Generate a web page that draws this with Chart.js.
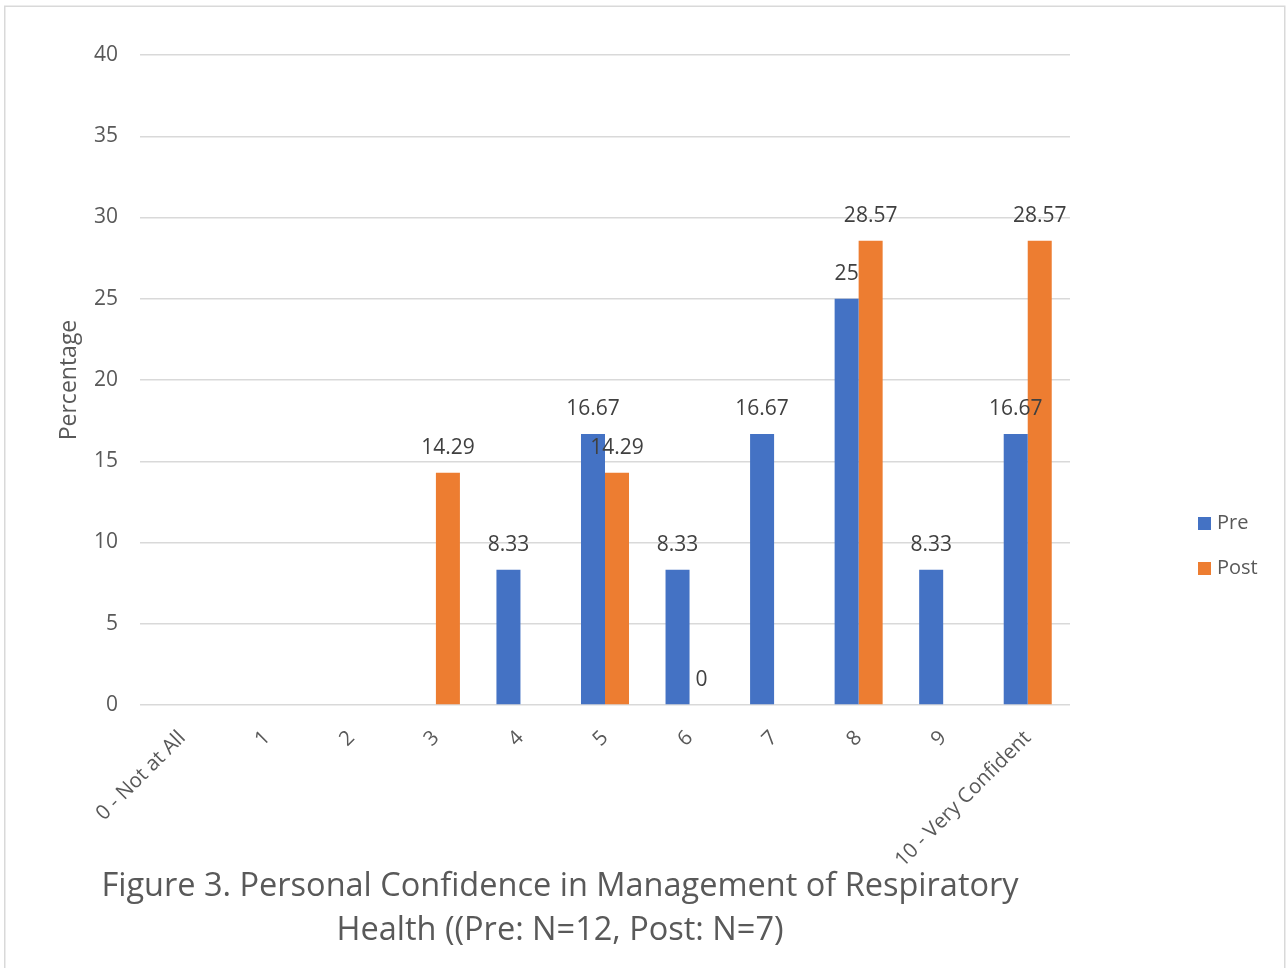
<!DOCTYPE html>
<html>
<head>
<meta charset="utf-8">
<title>Personal Confidence in Management of Respiratory Health</title>
<script src="https://cdn.jsdelivr.net/npm/chart.js@4.4.1/dist/chart.umd.min.js"></script>
<style>
  html, body { margin: 0; padding: 0; background: #ffffff; overflow: hidden; }
  #wrap { position: relative; width: 1286px; height: 968px; }
</style>
</head>
<body>
<div id="wrap"><canvas id="chart" width="1286" height="968"></canvas></div>
<script>
// Confidence rating categories (0-10 scale)
const categories = ['0 - Not at All', '1', '2', '3', '4', '5', '6', '7', '8', '9', '10 - Very Confident'];
// Percentage of respondents per rating; null = no response recorded
const preValues  = [null, null, null, null, 8.33, 16.67, 8.33, 16.67, 25, 8.33, 16.67];
const postValues = [null, null, null, 14.29, null, 14.29, 0, null, 28.57, null, 28.57];
const seriesNames = ['Pre', 'Post'];
const yMin = 0, yMax = 40, yStep = 5;
const yAxisTitle = 'Percentage';
const figureTitle = ['Figure 3. Personal Confidence in Management of Respiratory', 'Health ((Pre: N=12, Post: N=7)'];

const FONT = "'Open Sans', 'DejaVu Sans', sans-serif";
const TEXT = '#595959';
const LABEL = '#404040';
const GRID = '#d9d9d9';
const PRE_COLOR = '#4472C4';
const POST_COLOR = '#ED7D31';

// Light frame around the whole chart
const chartFrame = {
  id: 'chartFrame',
  beforeDraw(chart) {
    const ctx = chart.ctx;
    ctx.save();
    ctx.fillStyle = '#ffffff';
    ctx.fillRect(0, 0, chart.width, chart.height);
    ctx.strokeStyle = GRID;
    ctx.lineWidth = 1.5;
    ctx.strokeRect(4.75, 6.25, 1280, 1000);
    ctx.restore();
  }
};

// Value labels above each bar
const valueLabels = {
  id: 'valueLabels',
  afterDatasetsDraw(chart) {
    const ctx = chart.ctx;
    ctx.save();
    ctx.font = '21px ' + FONT;
    ctx.fillStyle = LABEL;
    ctx.textAlign = 'center';
    ctx.textBaseline = 'middle';
    chart.data.datasets.forEach((ds, i) => {
      const meta = chart.getDatasetMeta(i);
      meta.data.forEach((bar, j) => {
        const v = ds.data[j];
        if (v === null || v === undefined) return;
        ctx.fillText(String(v), bar.x, bar.y - 25);
      });
    });
    ctx.restore();
  }
};

// Legend on the right side
const sideLegend = {
  id: 'sideLegend',
  afterDraw(chart) {
    const ctx = chart.ctx;
    ctx.save();
    ctx.font = '20px ' + FONT;
    ctx.textAlign = 'left';
    ctx.textBaseline = 'middle';
    const x = 1198, y0 = 523, gap = 45;
    chart.data.datasets.forEach((ds, i) => {
      const y = y0 + i * gap;
      ctx.fillStyle = ds.backgroundColor;
      ctx.fillRect(x, y - 6, 13, 13);
      ctx.fillStyle = TEXT;
      ctx.fillText(ds.label, x + 19, y);
    });
    ctx.restore();
  }
};

// Figure caption beneath the axis labels
const figureCaption = {
  id: 'figureCaption',
  afterDraw(chart) {
    const ctx = chart.ctx;
    ctx.save();
    ctx.font = '32.5px ' + FONT;
    ctx.fillStyle = TEXT;
    ctx.textAlign = 'center';
    ctx.textBaseline = 'middle';
    figureTitle.forEach((line, i) => ctx.fillText(line, 560, 887 + i * 44));
    ctx.restore();
  }
};

function draw() {
  Chart.defaults.font.family = FONT;
  new Chart(document.getElementById('chart'), {
    type: 'bar',
    data: {
      labels: categories,
      datasets: [
        { label: seriesNames[0], data: preValues, backgroundColor: PRE_COLOR, borderWidth: 0 },
        { label: seriesNames[1], data: postValues, backgroundColor: POST_COLOR, borderWidth: 0 }
      ]
    },
    options: {
      responsive: false,
      animation: false,
      devicePixelRatio: 1,
      layout: { padding: { left: 0, right: 216, top: 55, bottom: 0 } },
      datasets: { bar: { categoryPercentage: 0.568, barPercentage: 1.0 } },
      plugins: {
        legend: { display: false },
        title: { display: false },
        tooltip: { enabled: false }
      },
      scales: {
        x: {
          grid: { display: false },
          border: { display: false },
          ticks: {
            color: TEXT,
            font: { size: 20.5 },
            minRotation: 45,
            maxRotation: 45,
            autoSkip: false,
            padding: 13
          },
          afterFit(scale) { scale.height = 263; }
        },
        y: {
          min: yMin,
          max: yMax,
          ticks: { stepSize: yStep, color: TEXT, font: { size: 21 }, padding: 22 },
          grid: { color: GRID, lineWidth: 1.5, drawTicks: false },
          border: { display: false },
          title: {
            display: true,
            text: yAxisTitle,
            color: TEXT,
            font: { size: 23 },
            padding: { top: 56, bottom: 0 }
          },
          afterFit(scale) { scale.width = 140; }
        }
      }
    },
    plugins: [chartFrame, valueLabels, sideLegend, figureCaption]
  });
}

if (document.fonts && document.fonts.load) {
  Promise.all([
    document.fonts.load("20px 'Open Sans'"),
    document.fonts.load("30px 'Open Sans'")
  ]).then(draw, draw);
} else {
  draw();
}
</script>
</body>
</html>
